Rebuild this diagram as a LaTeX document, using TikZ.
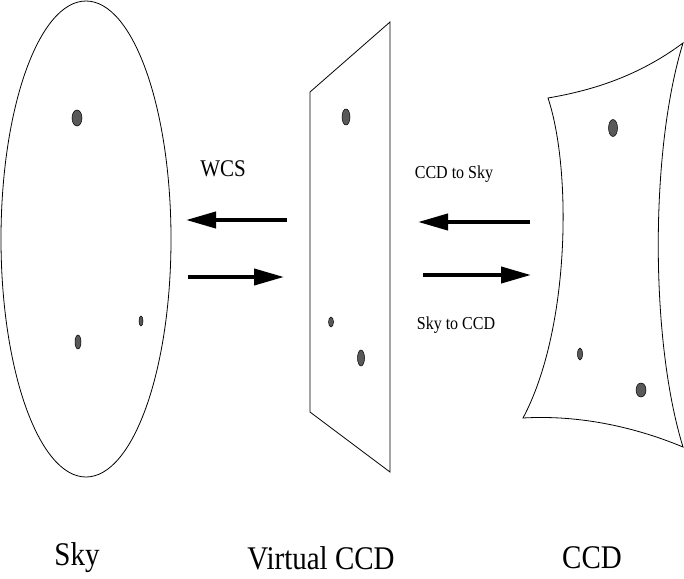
\documentclass[tikz,border=0pt]{standalone}
\usepackage{fontspec}
\setmainfont{Liberation Serif}
\usetikzlibrary{arrows.meta}
\newcommand{\tall}[1]{\scalebox{1}[1.14]{#1}}

\begin{document}
\begin{tikzpicture}[x=1pt, y=-1pt, line width=0.8pt,
    star/.style={draw=black, line width=0.5pt, fill=black!65},
    map/.style={line width=4pt, -{Triangle[length=30pt, width=16pt]}},
    title/.style={font=\fontsize{29}{32}\selectfont}]
            \useasboundingbox (0,0) rectangle (684,578);
            % sky
            \coordinate (S) at (86,239);
            \draw (S) ellipse [x radius=85, y radius=238];
            \fill[star] (77,118) ellipse [x radius=5, y radius=8];
            \fill[star] (78,342) ellipse [x radius=3, y radius=7];
            \fill[star] (141,321) ellipse [x radius=2, y radius=5];
            % virtual ccd
            \coordinate (V1) at (310,92); \coordinate (V2) at (390,22); \coordinate (V3) at (390,472); \coordinate (V4) at (310,412);
            \draw (V1) -- (V2) -- (V3) -- (V4) -- cycle;
            \fill[star] (346,117) ellipse [x radius=4, y radius=8];
            \fill[star] (331,322) ellipse [x radius=2.5, y radius=5];
            \fill[star] (361,358) ellipse [x radius=3.5, y radius=8];
            % ccd
            \coordinate (C1) at (548,98); \coordinate (C2) at (683,43); \coordinate (C3) at (683,447); \coordinate (C4) at (523,418);
            \draw (C1) .. controls (595,90) and (640,75) .. (C2)
                  .. controls (650,150) and (650,340) .. (C3)
                  .. controls (630,425) and (575,415) .. (C4)
                  .. controls (570,330) and (572,170) .. (C1) -- cycle;
            \fill[star] (613,128) ellipse [x radius=4.5, y radius=8.5];
            \fill[star] (580,354) ellipse [x radius=2.5, y radius=6];
            \fill[star] (641,390) ellipse [x radius=5, y radius=7];
            % arrows
            \coordinate (a1) at (287,220); \coordinate (a2) at (186,220);
            \coordinate (b1) at (188,277); \coordinate (b2) at (284,277);
            \coordinate (c1) at (530,222); \coordinate (c2) at (418,222);
            \coordinate (d1) at (423,275); \coordinate (d2) at (531,275);
            \draw[map] (a1) -- (a2);
            \draw[map] (b1) -- (b2);
            \draw[map] (c1) -- (c2);
            \draw[map] (d1) -- (d2);
            \node[font=\fontsize{21}{24}\selectfont] (wcs) at (223,169) {\tall{WCS}};
            \node[font=\fontsize{16}{18}\selectfont] (c2s) at (454,174) {\tall{CCD to Sky}};
            \node[font=\fontsize{16}{18}\selectfont] (s2c) at (456,325) {\tall{Sky to CCD}};
            % titles
            \node[title] (sky) at (77,558) {\tall{Sky}};
            \node[title] (vccd) at (321,558) {\tall{Virtual CCD}};
            \node[title] (ccd) at (592,558) {\tall{CCD}};
        \end{tikzpicture}
\end{document}
